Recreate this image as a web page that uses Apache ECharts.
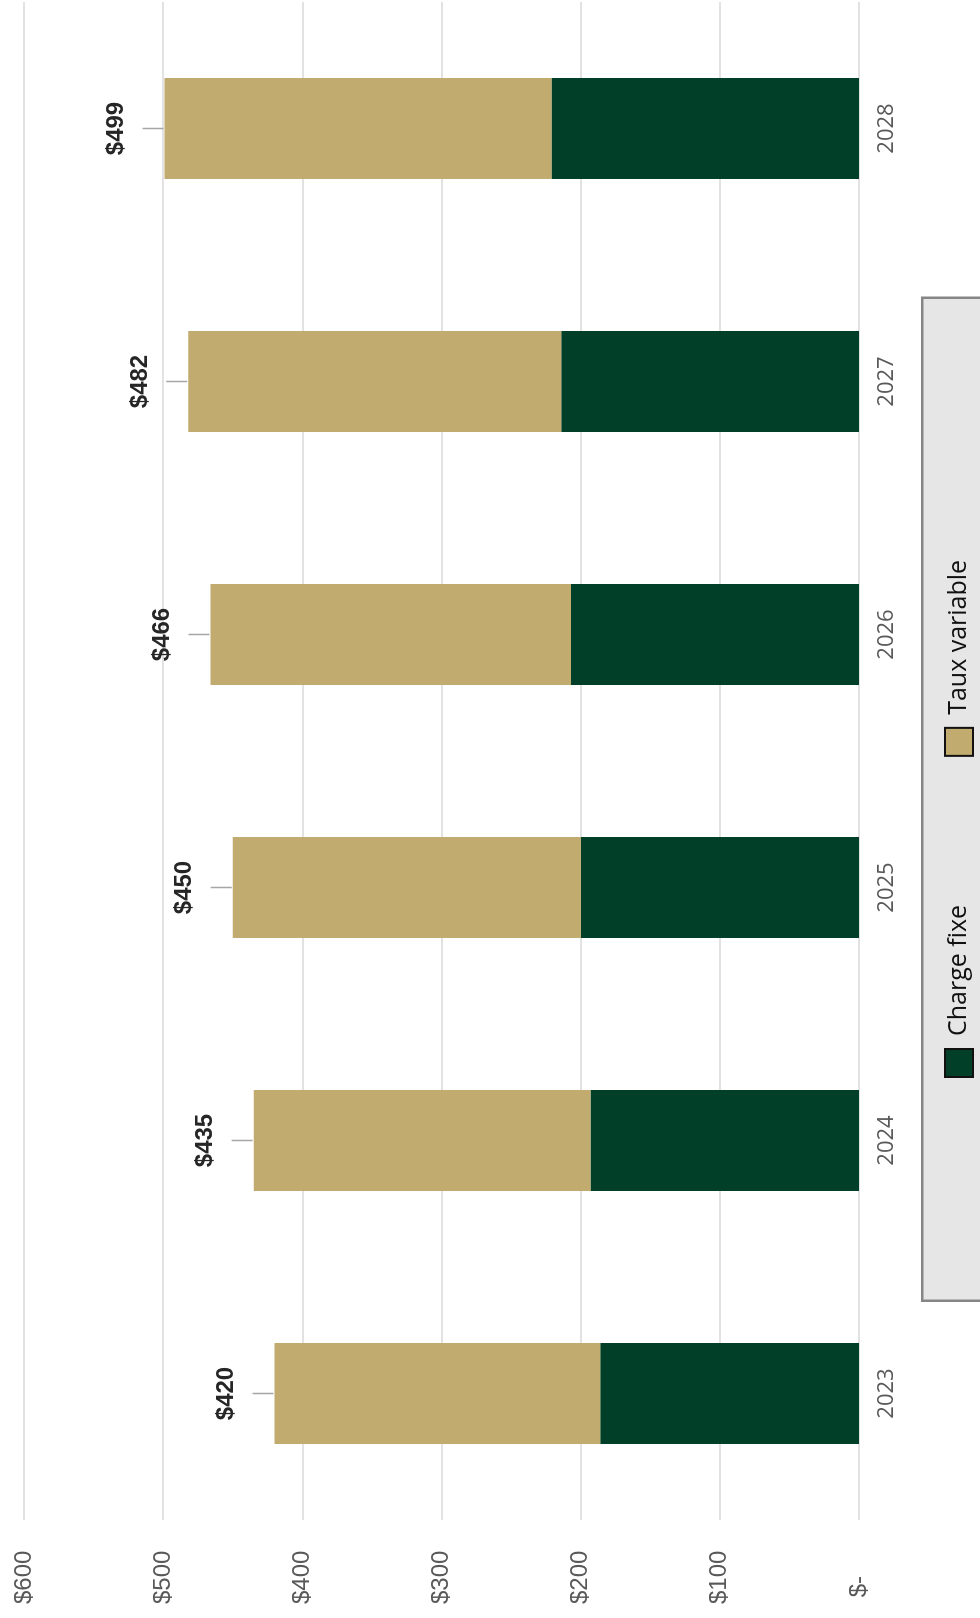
<!DOCTYPE html>
<html>
<head>
<meta charset="utf-8">
<script src="https://cdn.jsdelivr.net/npm/echarts@6/dist/echarts.min.js"></script>
<style>
  html, body { margin: 0; padding: 0; background: #fff; }
  #wrap { position: relative; width: 980px; height: 1618px; overflow: hidden; background: #fff; }
  #chart { position: absolute; left: 0; top: 0; width: 1618px; height: 980px;
           transform-origin: 0 0; transform: translateY(1618px) rotate(-90deg); }
</style>
</head>
<body>
<div id="wrap"><div id="chart"></div></div>
<script>
// ---- data ----
const years = ['2023', '2024', '2025', '2026', '2027', '2028'];
const chargeFixe = [186, 193, 200, 207, 214, 221];
const tauxVariable = [234, 242, 250, 259, 268, 278];
const seriesNames = ['Charge fixe', 'Taux variable'];
const valueTicks = { min: 0, max: 600, interval: 100 };

const totals = years.map((y, i) => chargeFixe[i] + tauxVariable[i]);

const chart = echarts.init(document.getElementById('chart'), null, { renderer: 'canvas' });

const option = {
  animation: false,
  backgroundColor: '#ffffff',
  grid: { left: 98, right: 2, top: 24, bottom: 121, containLabel: false },
  xAxis: {
    type: 'category',
    data: years,
    axisLine: { show: false },
    axisTick: { show: false },
    axisLabel: {
      margin: 17,
      color: '#595959',
      fontFamily: 'Open Sans',
      fontSize: 22
    }
  },
  yAxis: {
    type: 'value',
    min: valueTicks.min,
    max: valueTicks.max,
    interval: valueTicks.interval,
    axisLine: { show: false },
    axisTick: { show: false },
    splitLine: { lineStyle: { color: '#d9d9d9', width: 1.5 } },
    axisLabel: {
      align: 'left',
      margin: 84,
      color: '#595959',
      fontFamily: 'Liberation Sans',
      fontSize: 24,
      formatter: v => v === 0 ? ' $-' : '$' + v
    }
  },
  legend: {
    data: seriesNames,
    orient: 'horizontal',
    left: 535,
    top: 939,
    itemWidth: 28,
    itemHeight: 28,
    itemGap: 148,
    icon: 'rect',
    itemStyle: { borderColor: '#111', borderWidth: 2 },
    textStyle: { fontFamily: 'Open Sans', fontSize: 25, color: '#111', padding: [0, 0, 0, 8] }
  },
  graphic: [{
    type: 'rect',
    left: 316, top: 921,
    z: -10,
    shape: { width: 1003, height: 100 },
    style: { fill: '#e7e6e6', stroke: '#868686', lineWidth: 2.5 }
  }],
  series: [
    {
      name: seriesNames[0],
      type: 'bar',
      stack: 'total',
      barWidth: 101,
      data: chargeFixe,
      itemStyle: { color: '#013f28' }
    },
    {
      name: seriesNames[1],
      type: 'bar',
      stack: 'total',
      barWidth: 101,
      data: tauxVariable,
      itemStyle: { color: '#c2ab6e' }
    },
    {
      name: 'Total',
      type: 'custom',
      z: 5,
      data: totals.map((t, i) => [i, t]),
      renderItem: function (params, api) {
        const p = api.coord([api.value(0), api.value(1)]);
        return {
          type: 'group',
          children: [
            {
              type: 'line',
              shape: { x1: p[0], y1: p[1] - 1, x2: p[0], y2: p[1] - 22 },
              style: { stroke: '#a6a6a6', lineWidth: 1.5 }
            },
            {
              type: 'text',
              style: {
                x: p[0], y: p[1] - 48,
                text: '$' + api.value(1),
                align: 'center', verticalAlign: 'middle',
                fontFamily: 'Liberation Sans', fontWeight: 'bold', fontSize: 24,
                fill: '#262626'
              }
            }
          ]
        };
      }
    }
  ]
};
chart.setOption(option);
</script>
</body>
</html>
